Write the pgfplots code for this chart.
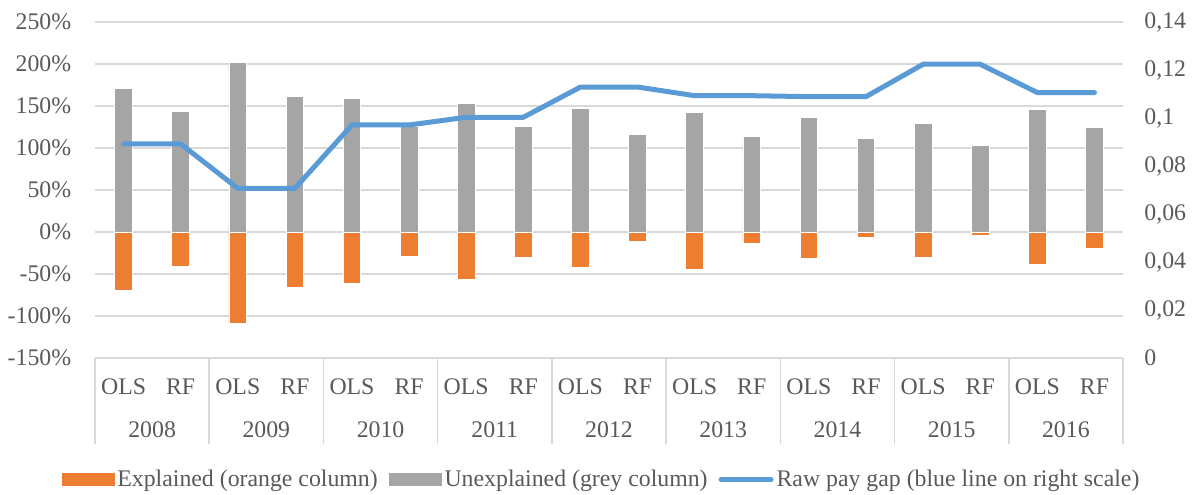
\documentclass[border=0pt]{standalone}
\usepackage{fontspec}
\setmainfont{Liberation Serif}
\usepackage{pgfplots}
\usepackage{pgfplotstable}
\pgfplotsset{compat=1.18}
\definecolor{orangec}{HTML}{ED7D31}
\definecolor{greyc}{HTML}{A5A5A5}
\definecolor{bluec}{HTML}{5B9BD5}
\definecolor{gridc}{HTML}{D9D9D9}
\definecolor{textc}{HTML}{595959}
\newcommand{\lblfont}{\fontsize{11.9}{14.2}\selectfont}

\pgfplotstableread{
x expl unexpl gap
0 -70 171 0.0892
1 -40.5 143 0.0892
2 -108.7 201.5 0.0707
3 -66 161 0.0707
4 -61.5 159 0.0971
5 -29 126 0.0971
6 -56 153 0.1003
7 -30.5 126 0.1003
8 -42 147 0.1129
9 -11 116 0.1129
10 -44 142 0.1093
11 -14 114 0.1093
12 -32 136.5 0.1089
13 -7 111 0.1089
14 -30 129 0.1224
15 -4 103 0.1224
16 -39 146 0.1106
17 -20 125 0.1106
}\datatable

\begin{document}
\begin{tikzpicture}
\path[use as bounding box] (-47.5pt,-68pt) rectangle (550pt,179pt);
\begin{axis}[
 at={(0,0)}, anchor=south west, scale only axis, width=514pt, height=168pt,
 xmin=-0.5, xmax=17.5, ymin=-150, ymax=250,
 axis line style={draw=none},
 major tick length=0pt,
 ytick={-150,-100,-50,0,50,100,150,200,250},
 yticklabels={-150\%,-100\%,-50\%,0\%,50\%,100\%,150\%,200\%,250\%},
 ymajorgrids, grid style={gridc, line width=0.75pt},
 xtick={0,...,17},
 xticklabels={OLS,RF,OLS,RF,OLS,RF,OLS,RF,OLS,RF,OLS,RF,OLS,RF,OLS,RF,OLS,RF},
 x tick label style={anchor=center, yshift=-14.35pt, inner sep=0pt},
 y tick label style={anchor=east, inner sep=0pt, xshift=-11.7pt},
 tick label style={font=\lblfont, text=textc},
 clip=false,
]
\addplot[ybar, bar width=8.8pt, bar shift=0pt, fill=greyc, draw=white, line width=0.4pt] table[x=x,y=unexpl]{\datatable};
\addplot[ybar, bar width=8.8pt, bar shift=0pt, fill=orangec, draw=white, line width=0.4pt] table[x=x,y=expl]{\datatable};
\draw[gridc, line width=0.75pt] (axis cs:-0.5,-150) -- ++(0pt,-43pt);
\draw[gridc, line width=0.75pt] (axis cs:1.5,-150) -- ++(0pt,-43pt);
\draw[gridc, line width=0.75pt] (axis cs:3.5,-150) -- ++(0pt,-43pt);
\draw[gridc, line width=0.75pt] (axis cs:5.5,-150) -- ++(0pt,-43pt);
\draw[gridc, line width=0.75pt] (axis cs:7.5,-150) -- ++(0pt,-43pt);
\draw[gridc, line width=0.75pt] (axis cs:9.5,-150) -- ++(0pt,-43pt);
\draw[gridc, line width=0.75pt] (axis cs:11.5,-150) -- ++(0pt,-43pt);
\draw[gridc, line width=0.75pt] (axis cs:13.5,-150) -- ++(0pt,-43pt);
\draw[gridc, line width=0.75pt] (axis cs:15.5,-150) -- ++(0pt,-43pt);
\draw[gridc, line width=0.75pt] (axis cs:17.5,-150) -- ++(0pt,-43pt);
\node[font=\lblfont, text=textc, inner sep=0pt] at ([yshift=-35.7pt]axis cs:0.5,-150) {2008};
\node[font=\lblfont, text=textc, inner sep=0pt] at ([yshift=-35.7pt]axis cs:2.5,-150) {2009};
\node[font=\lblfont, text=textc, inner sep=0pt] at ([yshift=-35.7pt]axis cs:4.5,-150) {2010};
\node[font=\lblfont, text=textc, inner sep=0pt] at ([yshift=-35.7pt]axis cs:6.5,-150) {2011};
\node[font=\lblfont, text=textc, inner sep=0pt] at ([yshift=-35.7pt]axis cs:8.5,-150) {2012};
\node[font=\lblfont, text=textc, inner sep=0pt] at ([yshift=-35.7pt]axis cs:10.5,-150) {2013};
\node[font=\lblfont, text=textc, inner sep=0pt] at ([yshift=-35.7pt]axis cs:12.5,-150) {2014};
\node[font=\lblfont, text=textc, inner sep=0pt] at ([yshift=-35.7pt]axis cs:14.5,-150) {2015};
\node[font=\lblfont, text=textc, inner sep=0pt] at ([yshift=-35.7pt]axis cs:16.5,-150) {2016};
\end{axis}
\begin{axis}[
 at={(0,0)}, anchor=south west, scale only axis, width=514pt, height=168pt,
 xmin=-0.5, xmax=17.5, ymin=0, ymax=0.14,
 axis x line=none, axis y line*=right, axis line style={draw=none},
 major tick length=0pt,
 ytick={0,0.02,0.04,0.06,0.08,0.1,0.12,0.14},
 yticklabels={0,{0,02},{0,04},{0,06},{0,08},{0,1},{0,12},{0,14}},
 y tick label style={anchor=west, inner sep=0pt, xshift=10.5pt, font=\lblfont, text=textc},
 clip=false,
 legend style={at={(0.4932,-0.3616)}, anchor=center, draw=none, fill=none,
   font=\lblfont, text=textc, inner sep=0pt,
   /tikz/every even column/.append style={column sep=4pt},
   nodes={inner sep=1.5pt}},
 legend columns=3,
 legend cell align=left,
]
\addlegendimage{legend image code/.code={\fill[orangec] (0pt,-3pt) rectangle (26pt,3pt);}}
\addlegendimage{legend image code/.code={\fill[greyc] (0pt,-3pt) rectangle (26pt,3pt);}}
\addplot[bluec, line width=2.5pt, line join=round, line cap=round,
  legend image code/.code={\draw[bluec, line width=2.5pt, line cap=round] (1pt,0pt) -- (26pt,0pt);}]
  table[x=x,y=gap]{\datatable};
\legend{Explained (orange column),Unexplained (grey column),Raw pay gap (blue line on right scale)}
\end{axis}
\end{tikzpicture}
\end{document}
